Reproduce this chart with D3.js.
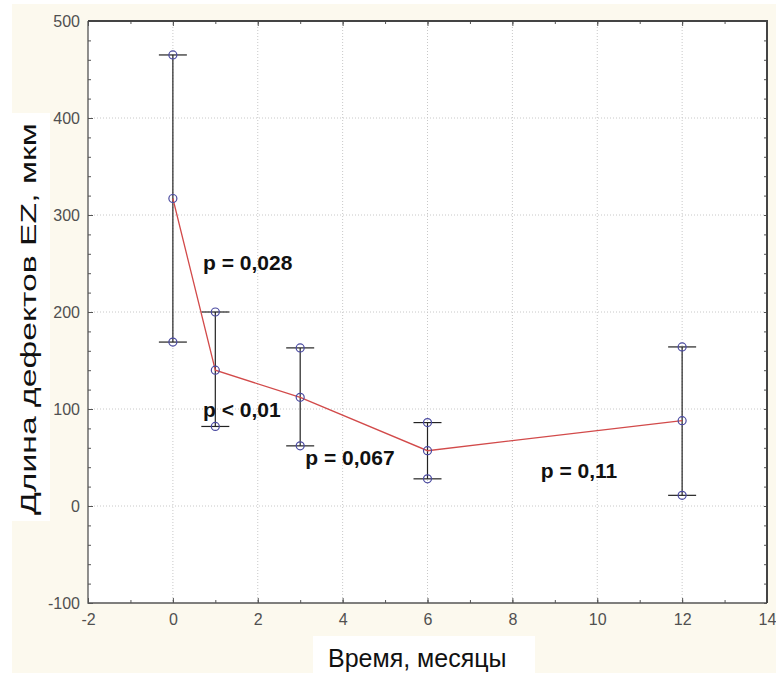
<!DOCTYPE html>
<html><head><meta charset="utf-8">
<script src="https://cdn.jsdelivr.net/npm/d3@7"></script>
<style>
html,body{margin:0;padding:0;background:#fff;}
svg{display:block;font-family:"Liberation Sans",Arial,sans-serif;}
</style></head>
<body>
<svg id="chart" width="776" height="673"></svg>
<script>
// ---- data ----
const months = [0, 1, 3, 6, 12];
const means  = [317, 140, 112, 57, 88];
const upper  = [465, 200, 163, 86, 164];
const lower  = [169, 82, 62, 28, 11];
const xTicks = [-2, 0, 2, 4, 6, 8, 10, 12, 14];
const yTicks = [-100, 0, 100, 200, 300, 400, 500];
const pLabels = ["p = 0,028", "p < 0,01", "p = 0,067", "p = 0,11"];
const xTitle = "Время, месяцы";
const yTitle = "Длина дефектов EZ, мкм";

// ---- layout (data-space anchors for the p labels) ----
const pAnchorX = [0.71, 0.71, 3.12, 8.67];
const pAnchorY = [243, 92, 42, 29];

const svg = d3.select("#chart");
const L = 88, T = 21, R = 767, B = 603;
const x = d3.scaleLinear().domain([-2, 14]).range([L, R]);
const y = d3.scaleLinear().domain([-100, 500]).range([B, T]);

// backgrounds
svg.append("rect").attr("x", 12).attr("y", 4).attr("width", 764).attr("height", 669).attr("fill", "#fcf9ee");
svg.append("rect").attr("x", 8).attr("y", 113).attr("width", 42).attr("height", 408).attr("fill", "#ffffff");
svg.append("rect").attr("x", 313).attr("y", 636).attr("width", 222).attr("height", 37).attr("fill", "#ffffff");
svg.append("rect").attr("x", L).attr("y", T).attr("width", R - L).attr("height", B - T).attr("fill", "#ffffff");

// grid
const g = svg.append("g");
g.selectAll(".gx").data(xTicks.slice(1, -1)).join("line")
  .attr("x1", d => x(d)).attr("x2", d => x(d)).attr("y1", T).attr("y2", B)
  .attr("stroke", "#c8c8c8").attr("stroke-width", 1).attr("stroke-dasharray", "1,2");
g.selectAll(".gy").data(yTicks.slice(1, -1)).join("line")
  .attr("y1", d => y(d)).attr("y2", d => y(d)).attr("x1", L).attr("x2", R)
  .attr("stroke", "#c8c8c8").attr("stroke-width", 1).attr("stroke-dasharray", "1,2");

// axes
const minorX = d3.range(-2, 14.01, 1);
const minorY = d3.range(-100, 500.01, 20);
const axCol = "#555";
const fmt = d => String(d);
function styleAxis(sel) {
  sel.select(".domain").remove();
  sel.selectAll(".tick line").attr("stroke", axCol);
  sel.selectAll("text").attr("fill", "#505050").attr("font-size", 16);
}
svg.append("g").attr("transform", `translate(${L},0)`)
  .call(d3.axisLeft(y).tickValues(minorY).tickSize(-3).tickFormat("")).call(styleAxis);
svg.append("g").attr("transform", `translate(${L},0)`)
  .call(d3.axisLeft(y).tickValues(yTicks).tickSize(-5).tickPadding(8).tickFormat(fmt)).call(styleAxis);
svg.append("g").attr("transform", `translate(${R},0)`)
  .call(d3.axisRight(y).tickValues(minorY).tickSize(-3).tickFormat("")).call(styleAxis);
svg.append("g").attr("transform", `translate(0,${B})`)
  .call(d3.axisBottom(x).tickValues(minorX).tickSize(-3).tickFormat("")).call(styleAxis);
svg.append("g").attr("transform", `translate(0,${B})`)
  .call(d3.axisBottom(x).tickValues(xTicks).tickSize(-5).tickPadding(11).tickFormat(fmt)).call(styleAxis);
svg.append("g").attr("transform", `translate(0,${T})`)
  .call(d3.axisTop(x).tickValues(minorX).tickSize(-3).tickFormat("")).call(styleAxis);
svg.append("g").attr("transform", `translate(0,${T})`)
  .call(d3.axisTop(x).tickValues(xTicks).tickSize(-5).tickFormat("")).call(styleAxis);

// frame
svg.append("path").attr("d", `M${L},${T}V${B}H${R}`).attr("fill", "none").attr("stroke", "#555").attr("stroke-width", 1.3);
svg.append("path").attr("d", `M${L},${T}H${R}V${B}`).attr("fill", "none").attr("stroke", "#444").attr("stroke-width", 2);

// whiskers
const pts = months.map((m, i) => ({m, mean: means[i], hi: upper[i], lo: lower[i]}));
const capW = 14;
const wg = svg.append("g");
wg.selectAll(".wv").data(pts).join("line")
  .attr("x1", d => x(d.m)).attr("x2", d => x(d.m)).attr("y1", d => y(d.hi)).attr("y2", d => y(d.lo))
  .attr("stroke", "#222").attr("stroke-width", 1.2);
wg.selectAll(".wt").data(pts).join("line")
  .attr("x1", d => x(d.m) - capW).attr("x2", d => x(d.m) + capW).attr("y1", d => y(d.hi)).attr("y2", d => y(d.hi))
  .attr("stroke", "#222").attr("stroke-width", 1.2);
wg.selectAll(".wb").data(pts).join("line")
  .attr("x1", d => x(d.m) - capW).attr("x2", d => x(d.m) + capW).attr("y1", d => y(d.lo)).attr("y2", d => y(d.lo))
  .attr("stroke", "#222").attr("stroke-width", 1.2);

// mean line
svg.append("path").datum(pts)
  .attr("d", d3.line().x(d => x(d.m)).y(d => y(d.mean)))
  .attr("fill", "none").attr("stroke", "#d24a4a").attr("stroke-width", 1.3);

// circles
const circ = [];
pts.forEach(d => { circ.push([d.m, d.hi]); circ.push([d.m, d.mean]); circ.push([d.m, d.lo]); });
svg.append("g").selectAll("circle").data(circ).join("circle")
  .attr("cx", d => x(d[0])).attr("cy", d => y(d[1])).attr("r", 4)
  .attr("fill", "none").attr("stroke", "#4a4aa0").attr("stroke-width", 1.2);

// p labels
svg.append("g").selectAll("text").data(pLabels).join("text")
  .attr("x", (d, i) => x(pAnchorX[i])).attr("y", (d, i) => y(pAnchorY[i]))
  .attr("font-size", 21).attr("font-weight", "bold").attr("fill", "#111")
  .text(d => d);

// titles
svg.append("text").attr("x", 328).attr("y", 667).attr("font-size", 25).attr("fill", "#111").text(xTitle);
svg.append("text").attr("transform", "translate(36,515) rotate(-90)")
  .attr("font-size", 22).attr("fill", "#111")
  .attr("textLength", 392).attr("lengthAdjust", "spacingAndGlyphs").text(yTitle);
</script>
</body></html>
